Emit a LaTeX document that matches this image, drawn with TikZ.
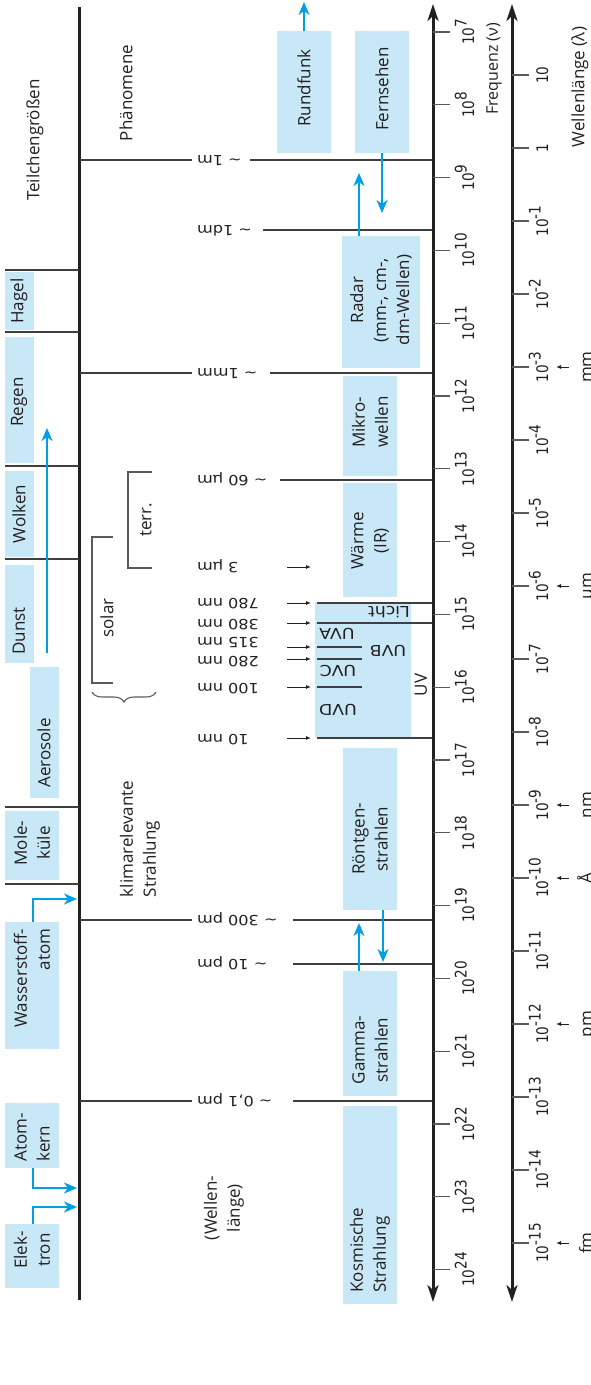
\documentclass[tikz,border=0pt]{standalone}
\usepackage{fontspec}
\setmainfont{Open Sans}
\newfontfamily\axfont[FakeStretch=0.85]{DejaVu Sans}
\newfontfamily\labfont[FakeStretch=1.15]{DejaVu Sans}
\usetikzlibrary{arrows.meta,decorations.pathreplacing}
\definecolor{boxblue}{HTML}{C9E8F7}
\definecolor{arrblue}{HTML}{009FE3}
\definecolor{ink}{HTML}{231F20}
\definecolor{linegray}{HTML}{3F3F3F}
\definecolor{tickgray}{HTML}{5A5A5A}
\newcommand\tenp[1]{10\raisebox{7.5pt}{#1}}
\newcommand\pbx[5]{\node[pbox, anchor=north west, minimum width=#4pt, minimum height=#5pt] (#1) at (#2,#3) {};}
\tikzset{
 lbl/.style={rotate=90, font=\fontsize{17}{23}\selectfont, text=ink, inner sep=0pt, align=center},
 pbox/.style={fill=boxblue, draw=none, inner sep=0pt, outer sep=0pt},
 barrow/.style={draw=arrblue, line width=2.3pt, -{Stealth[length=13pt,width=11pt,inset=4pt]}},
 hline/.style={draw=linegray, line width=1.3pt},
 sepline/.style={draw=linegray, line width=1.2pt},
 brk/.style={draw=tickgray, line width=1.1pt},
 axisline/.style={draw=ink, line width=3pt, {Stealth[length=17pt,width=11pt,inset=5pt]}-{Stealth[length=17pt,width=11pt,inset=5pt]}},
 tickl/.style={draw=tickgray, line width=1.3pt},
 wl/.style={rotate=180, anchor=east, inner sep=0pt, text height=10pt, text depth=0pt, font=\labfont\fontsize{14}{14}\selectfont, text=ink},
 uvl/.style={rotate=180, inner sep=0pt, font=\labfont\fontsize{15}{15}\selectfont, text=ink},
 ax/.style={rotate=90, anchor=base, inner sep=0pt, font=\axfont\fontsize{16}{16}\selectfont, text=ink},
 unitl/.style={rotate=90, anchor=base, inner sep=0pt, font=\fontsize{17}{17}\selectfont, text=ink},
 sarrow/.style={draw=ink, line width=0.9pt, -{Latex[length=5pt,width=4pt]}},
}
\begin{document}
\begin{tikzpicture}[x=1pt,y=-1pt]
\useasboundingbox (0,0) rectangle (590,1385);

% ---------- boxes ----------
\pbx{hagelB}{5}{272}{29}{58}
\pbx{regenB}{5}{337}{29}{126}
\pbx{wolkenB}{5}{471}{29}{86}
\pbx{dunstB}{5}{565}{29}{98}
\pbx{aeroB}{30}{667}{29}{131}
\pbx{moleB}{5}{811}{54}{69}
\pbx{wasserB}{5}{922}{54}{127}
\pbx{atomB}{5}{1103}{54}{65}
\pbx{elekB}{5}{1224}{54}{64}
\pbx{rundB}{277}{31}{54}{122}
\pbx{fernB}{355}{31}{54}{122}
\pbx{radarB}{342}{236}{78}{132}
\pbx{mikroB}{343}{376}{54}{100}
\pbx{waermeB}{343}{483}{54}{114}
\pbx{uvB}{315}{603}{96}{135}
\pbx{roentB}{343}{748}{54}{162}
\pbx{gammaB}{343}{971}{54}{125}
\pbx{kosmB}{343}{1106}{54}{198}

% ---------- main vertical line ----------
\draw[draw=ink, line width=3pt] (79,7) -- (79,1300);

% ---------- separators left ----------
\foreach \yy in {270,332,466,559,807,884}{\draw[sepline] (5,\yy) -- (79,\yy);}

% ---------- horizontal lines ----------
\draw[hline] (80,160) -- (192,160);  \draw[hline] (250,160) -- (432,160);
\draw[hline] (263,230) -- (432,230);
\draw[hline] (80,373) -- (192,373);  \draw[hline] (270,373) -- (432,373);
\draw[hline] (280,480) -- (432,480);
\draw[hline] (317,603) -- (432,603);
\draw[hline] (317,623) -- (432,623);
\draw[hline] (317,647) -- (362,647);
\draw[hline] (317,659) -- (362,659);
\draw[hline] (317,687) -- (362,687);
\draw[hline] (317,738) -- (432,738);
\draw[hline] (80,920) -- (192,920);  \draw[hline] (293,920) -- (432,920);
\draw[hline] (293,964) -- (432,964);
\draw[hline] (80,1101) -- (192,1101); \draw[hline] (293,1101) -- (432,1101);

% ---------- wavelength labels (upside down) ----------
\node[wl] (l1m)   at (197,160) {\textasciitilde\ 1m};
\node[wl] (l1dm)  at (197,230) {\textasciitilde\ 1dm};
\node[wl] (l1mm)  at (197,373) {\textasciitilde\ 1mm};
\node[wl] (l60)   at (197,480) {\textasciitilde\ 60 µm};
\node[wl] (l3)    at (197,567) {3 µm};
\node[wl] (l780)  at (197,603) {780 nm};
\node[wl] (l380)  at (197,624) {380 nm};
\node[wl] (l315)  at (197,642) {315 nm};
\node[wl] (l280)  at (197,661) {280 nm};
\node[wl] (l100)  at (197,688) {100 nm};
\node[wl] (l10)   at (197,739) {10 nm};
\node[wl] (l300p) at (197,920) {\textasciitilde\ 300 pm};
\node[wl] (l10p)  at (197,964) {\textasciitilde\ 10 pm};
\node[wl] (l01p)  at (197,1101) {\textasciitilde\ 0,1 pm};

% small arrows
\foreach \yy [count=\i] in {567,603,623,647,659,687,738}{
  \coordinate (sa\i) at (287,\yy); \coordinate (sb\i) at (311,\yy);
  \draw[sarrow] (sa\i) -- (sb\i);}

% ---------- UV texts ----------
\node[uvl] (licht) at (389,612) {Licht};
\node[uvl] (uva) at (337,634) {UVA};
\node[uvl] (uvc) at (338,671) {UVC};
\node[uvl] (uvd) at (338,710) {UVD};
\node[uvl] (uvbt) at (388,651) {UVB};
\node[lbl] (uvt) at (421,685) {UV};

% ---------- brackets ----------
\draw[brk] (113,537) -- (92,537) -- (92,683) -- (113,683);
\draw[brk] (152,472) -- (128,472) -- (128,568) -- (152,568);
\draw[brk, decorate, decoration={brace, mirror, amplitude=10pt}] (92,692) -- (156,692);
\node[lbl] (solar) at (107,618) {solar};
\node[lbl] (terr) at (146,520) {terr.};

% ---------- texts ----------
\node[lbl] (teil) at (35,140) {Teilchengrößen};
\node[lbl] (phaen) at (126,93) {Phänomene};
\node[lbl] (hagel) at (19,301) {Hagel};
\node[lbl] (regen) at (19,402) {Regen};
\node[lbl] (wolken) at (19,514) {Wolken};
\node[lbl] (dunst) at (19,631) {Dunst};
\node[lbl] (aero) at (44,753) {Aerosole};
\node[lbl] (mole) at (32,843) {Mole-\\küle};
\node[lbl, align=right] (wasser) at (32,978) {Wasserstoff-\\atom};
\node[lbl, align=left] (atom) at (32,1137) {Atom-\\kern};
\node[lbl] (elek) at (32,1250) {Elek-\\tron};
\node[lbl] (rund) at (304,88) {Rundfunk};
\node[lbl] (fern) at (382,89) {Fernsehen};
\node[lbl] (radar) at (381,300) {Radar\\(mm-, cm-,\\dm-Wellen)};
\node[lbl, align=left] (mikro) at (370,422) {Mikro-\\wellen};
\node[lbl] (waerme) at (370,541) {Wärme\\(IR)};
\node[lbl] (roent) at (370,839) {Röntgen-\\strahlen};
\node[lbl] (gamma) at (370,1050) {Gamma-\\strahlen};
\node[lbl, align=left] (kosm) at (370,1250) {Kosmische\\Strahlung};
\node[lbl, align=left] (klima) at (140,839) {klimarelevante\\Strahlung};
\node[lbl] (wlen) at (224,1208) {(Wellen-\\länge)};

% ---------- blue arrows ----------
\coordinate (px) at (33,0);
\coordinate (wTip) at (77,899);
\coordinate (aTip) at (77,1188);
\coordinate (eTip) at (77,1207);
\coordinate (longStart) at (47,653);
\coordinate (longTip) at (47,428);
\draw[barrow] (wasserB.north -| px) |- (wTip);
\draw[barrow] (atomB.south -| px) |- (aTip);
\draw[barrow] (elekB.north -| px) |- (eTip);
\draw[barrow] (longStart) -- (longTip);

\coordinate (rundTip) at (304,2);
\coordinate (fernTip) at (382,213);
\coordinate (radarTip) at (359,173);
\coordinate (roentTip) at (383,962);
\coordinate (gammaTip) at (359,923);
\draw[barrow] (rundB.north) -- (rundTip);
\draw[barrow] (fernB.south) -- (fernTip);
\draw[barrow] (radarB.north -| radarTip) -- (radarTip);
\draw[barrow] (roentB.south -| roentTip) -- (roentTip);
\draw[barrow] (gammaB.north -| gammaTip) -- (gammaTip);

% ---------- frequency axis ----------
\coordinate (fTop) at (433,4);
\coordinate (fBot) at (433,1302);
\draw[axisline] (fBot) -- (fTop);
\foreach \k in {7,...,24}{
  \pgfmathsetmacro\yy{32+72.8*(\k-7)}
  \draw[tickl] (433,\yy) -- (450,\yy);
  \node[ax] (f\k) at (474,\yy) {\tenp{\k}};
}
\node[lbl, font=\fontsize{16}{16}\selectfont] (freq) at (494,69) {Frequenz (ν)};

% ---------- wavelength axis ----------
\coordinate (wTop) at (512,4);
\coordinate (wBot) at (512,1302);
\draw[axisline] (wBot) -- (wTop);
\foreach \n [count=\i] in {1,0,...,-15}{
  \pgfmathsetmacro\yy{75+73*(1-\n)}
  \draw[tickl] (512,\yy) -- (529,\yy);
  \node[ax] (wt\i) at (548,\yy) {\ifnum\n=1 10\else\ifnum\n=0 1\else\tenp{\n}\fi\fi};
}
\node[lbl] (wlab) at (580,87) {Wellenlänge (λ)};

% units
\foreach \u/\yy [count=\i] in {mm/367, µm/586, nm/805, Å/878, pm/1024, fm/1243}{
  \coordinate (ua\i) at (569,\yy); \coordinate (ub\i) at (556,\yy);
  \draw[sarrow] (ua\i) -- (ub\i);
  \node[unitl] (un\i) at (592,\yy) {\u};
}
\end{tikzpicture}
\end{document}
